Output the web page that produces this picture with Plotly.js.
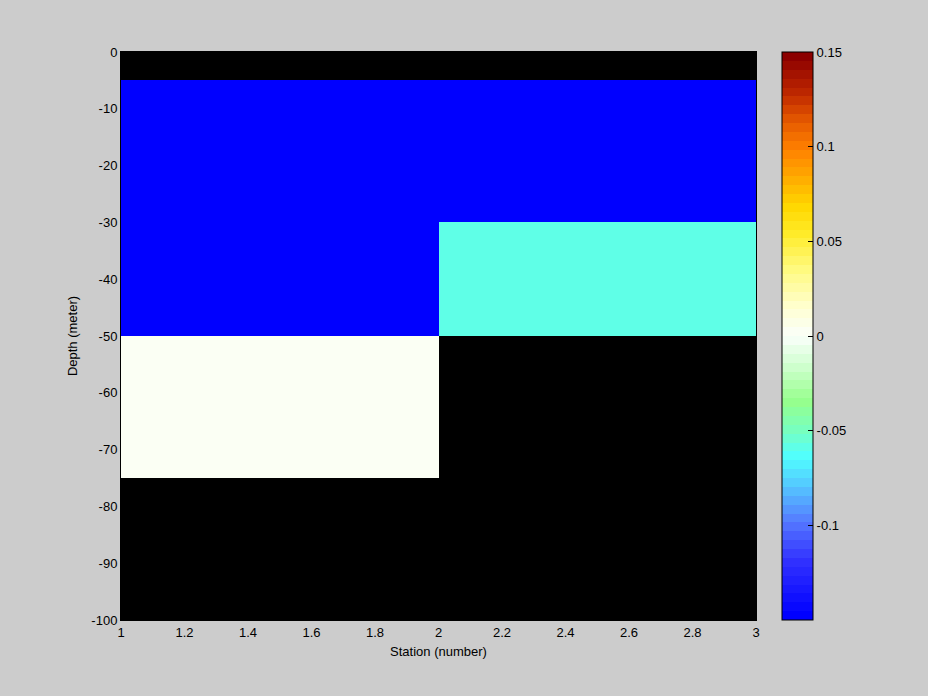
<!DOCTYPE html>
<html>
<head>
<meta charset="utf-8">
<script src="https://cdn.plot.ly/plotly-3.0.1.min.js"></script>
<style>html,body{margin:0;padding:0;background:#cccccc;}#chart{width:928px;height:696px;}</style>
</head>
<body>
<div id="chart"></div>
<script>
// Station edges (x) and depth edges (y) of the pcolor cells
var stationEdges = [1, 2, 3];
var depthEdges = [0, -5, -30, -50, -75, -100];
// Cell values: rows follow depthEdges intervals, columns follow stations; null = no data (black)
var row0to5 = [null, null];
var row5to30 = [-0.15, -0.15];
var row30to50 = [-0.15, -0.06];
var row50to75 = [0.003, null];
var row75to100 = [null, null];
var cellValues = [row0to5, row5to30, row30to50, row50to75, row75to100];
var cbTicks = [-0.1, -0.05, 0, 0.05, 0.1, 0.15];
var cbTickText = ['-0.1', '-0.05', '0', '0.05', '0.1', '0.15'];
var xTicks = [1, 1.2, 1.4, 1.6, 1.8, 2, 2.2, 2.4, 2.6, 2.8, 3];
var xTickText = ['1', '1.2', '1.4', '1.6', '1.8', '2', '2.2', '2.4', '2.6', '2.8', '3'];
var yTicks = [-100, -90, -80, -70, -60, -50, -40, -30, -20, -10, 0];
var yTickText = ['-100', '-90', '-80', '-70', '-60', '-50', '-40', '-30', '-20', '-10', '0'];
var zMin = -0.15, zMax = 0.15;

// colormap anchors (style), quantised to 64 bands like the original
var anchors = [
  [0, [0,0,255]], [0.1, [50,50,255]], [0.1667, [85,120,255]], [0.233, [85,200,255]],
  [0.283, [80,255,255]], [0.333, [120,255,190]], [0.383, [150,255,140]], [0.45, [210,255,210]],
  [0.5, [250,255,250]], [0.55, [255,255,210]], [0.617, [255,250,130]], [0.683, [255,235,40]],
  [0.733, [255,215,0]], [0.783, [255,170,0]], [0.833, [255,130,0]], [0.883, [230,90,0]],
  [0.933, [190,40,0]], [1, [140,0,0]]
];
function colAt(p) {
  for (var i = 0; i < anchors.length - 1; i++) {
    var a = anchors[i], b = anchors[i+1];
    if (p >= a[0] && p <= b[0]) {
      var t = (p - a[0]) / (b[0] - a[0]);
      return 'rgb(' + [0,1,2].map(function(k){return Math.round(a[1][k] + t*(b[1][k]-a[1][k]));}).join(',') + ')';
    }
  }
  return 'rgb(140,0,0)';
}
var N = 64, cs = [];
for (var i = 0; i < N; i++) {
  var c = colAt(i / (N - 1));
  cs.push([i / N, c]);
  cs.push([(i + 1) / N, c]);
}

// left-side tick marks on the colorbar (decoration)
var cbLeft = (782 - 121) / 635, tickW = 5 / 635;
var shapes = cbTicks.filter(function(v){return v < zMax;}).map(function(v){
  var yy = (v - zMin) / (zMax - zMin);
  return {type: 'line', xref: 'paper', yref: 'paper', x0: cbLeft, x1: cbLeft + tickW, y0: yy, y1: yy,
          line: {color: '#000', width: 1}};
});

var font = {family: 'Liberation Sans, Arial, sans-serif', size: 13, color: '#000'};
var trace = {
  type: 'heatmap',
  x: stationEdges,
  y: depthEdges,
  z: cellValues,
  zmin: zMin,
  zmax: zMax,
  colorscale: cs,
  hoverongaps: false,
  colorbar: {
    x: 1.041, xanchor: 'left', xref: 'paper',
    y: 0, yanchor: 'bottom', len: 1, lenmode: 'fraction',
    thickness: 31, thicknessmode: 'pixels',
    outlinewidth: 1, outlinecolor: '#000',
    tickmode: 'array', tickvals: cbTicks, ticktext: cbTickText,
    ticks: 'inside', ticklen: 5, tickcolor: '#000',
    tickfont: font, ypad: 0, xpad: 0
  }
};
var layout = {
  width: 928, height: 696,
  paper_bgcolor: '#cccccc',
  plot_bgcolor: '#000000',
  margin: {l: 121, r: 172, t: 52, b: 76},
  font: font,
  shapes: shapes,
  xaxis: {
    range: [1, 3], tickmode: 'array', tickvals: xTicks, ticktext: xTickText,
    ticks: '', showgrid: false, zeroline: false, showline: true, linecolor: '#000', mirror: true,
    title: {text: 'Station (number)', font: font, standoff: 8}, tickfont: font
  },
  yaxis: {
    range: [-100, 0], tickmode: 'array', tickvals: yTicks, ticktext: yTickText,
    ticks: '', showgrid: false, zeroline: false, showline: true, linecolor: '#000', mirror: true,
    title: {text: 'Depth (meter)', font: font, standoff: 10}, tickfont: font
  }
};
Plotly.newPlot('chart', [trace], layout, {displayModeBar: false, staticPlot: true});
</script>
</body>
</html>
